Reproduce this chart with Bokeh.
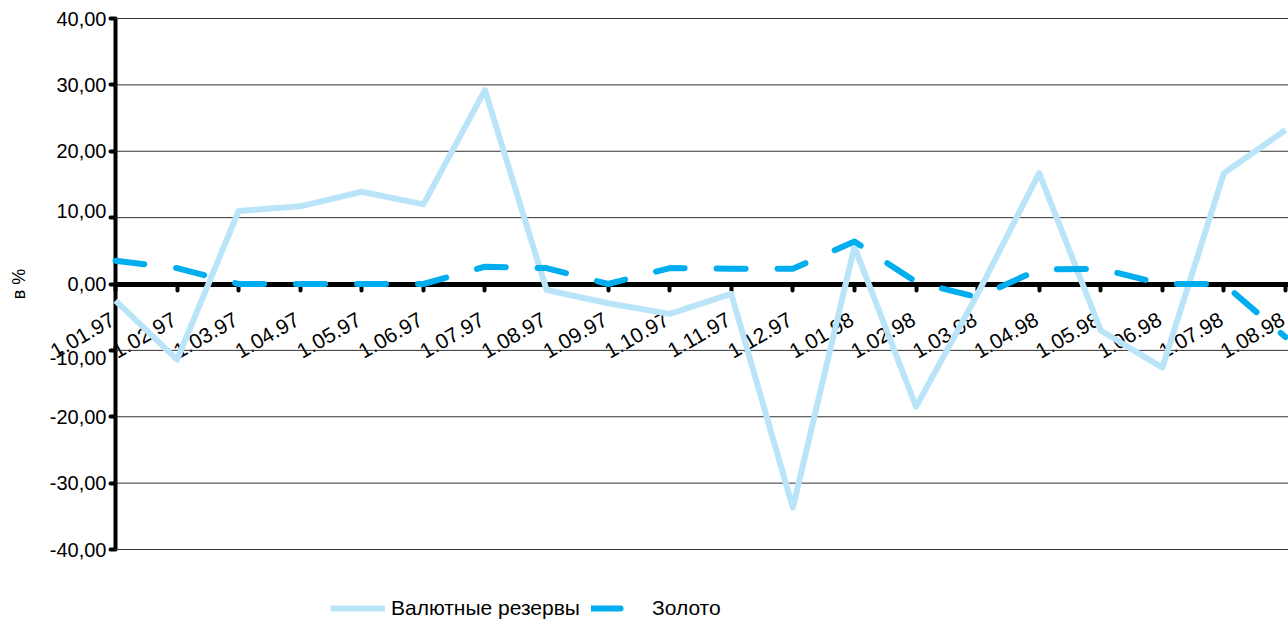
import math
from bokeh.plotting import figure
from bokeh.models import (Range1d, FixedTicker, ColumnDataSource, LinearAxis,
                          Legend, LegendItem, LabelSet, Label)
from bokeh.core.properties import value
from bokeh.embed import file_html
from bokeh.resources import INLINE

# ---- data ----
x_labels = ["1.01.97", "1.02.97", "1.03.97", "1.04.97", "1.05.97", "1.06.97",
            "1.07.97", "1.08.97", "1.09.97", "1.10.97", "1.11.97", "1.12.97",
            "1.01.98", "1.02.98", "1.03.98", "1.04.98", "1.05.98", "1.06.98",
            "1.07.98", "1.08.98"]
reserves = [-2.5, -11.4, 11.0, 11.7, 13.9, 12.0, 29.2, -0.9, -2.9, -4.5,
            -1.5, -33.7, 5.6, -18.5, -1.5, 16.7, -7.0, -12.6, 16.7, 23.2]
gold = [3.5, 2.4, 0.0, 0.0, 0.0, 0.0, 2.6, 2.4, 0.0, 2.4,
        2.3, 2.3, 6.4, 0.3, -2.0, 2.2, 2.3, 0.0, 0.0, -8.0]
y_ticks = [-40, -30, -20, -10, 0, 10, 20, 30, 40]
y_tick_labels = ["-40,00", "-30,00", "-20,00", "-10,00", "0,00",
                 "10,00", "20,00", "30,00", "40,00"]
series_names = ["Валютные резервы", "Золото"]
y_title = "в %"

# style: small vertical nudges (px) of a few y tick labels, as in the original
y_label_nudge = [0, 0, 0, -8, 0, 7, 0, 0, 0]

FONT = "Liberation Sans"
idx = list(range(len(x_labels)))
n = len(x_labels)

# layout geometry (pixels) used to set the ranges so the axes sit inside the canvas
W, H = 1288, 625
x_px0, x_px_last = 115, 1285          # pixel of first / last category
y_px_top, y_px_bot = 18, 549          # pixel of y = 40 / y = -40
xs = (x_px_last - x_px0) / (n - 1)
ys = (y_px_bot - y_px_top) / (y_ticks[-1] - y_ticks[0])
x_start = -x_px0 / xs
x_end = (n - 1) + (W - x_px_last) / xs
y_end = y_ticks[-1] + y_px_top / ys
y_start = y_ticks[0] - (H - y_px_bot) / ys

p = figure(width=W, height=H, output_backend="svg", toolbar_location=None,
           x_range=Range1d(x_start, x_end), y_range=Range1d(y_start, y_end),
           x_axis_location=None, y_axis_location=None,
           min_border=0, min_border_left=0, min_border_right=0,
           min_border_top=0, min_border_bottom=0)
p.outline_line_color = None
p.background_fill_color = "white"
p.border_fill_color = "white"
p.grid.visible = False

# horizontal grid lines (only right of the y axis)
grid_y = [t for t in y_ticks if t != 0]
p.segment(x0=[0] * len(grid_y), y0=grid_y, x1=[x_end] * len(grid_y), y1=grid_y,
          line_color="#333333", line_width=1)

# y axis line + ticks placed at x = 0 (labels drawn as a LabelSet)
ya = LinearAxis(fixed_location=0, bounds=(y_ticks[0], y_ticks[-1]),
                ticker=FixedTicker(ticks=y_ticks))
ya.axis_line_width = 4
ya.axis_line_color = "black"
ya.major_tick_in = 0
ya.major_tick_out = 5
ya.major_tick_line_width = 4
ya.major_tick_line_cap = "round"
ya.minor_tick_line_color = None
ya.major_label_text_color = None
ya.level = "underlay"
p.add_layout(ya, "left")

ysrc = ColumnDataSource(dict(x=[0] * len(y_ticks), y=y_ticks, text=y_tick_labels,
                             dy=y_label_nudge))
y_labels = LabelSet(x="x", y="y", text="text", source=ysrc, x_offset=-9, y_offset="dy",
                    text_align="right", text_baseline="middle",
                    text_font=value(FONT), text_font_size="20px", text_color="black",
                    level="underlay")
p.add_layout(y_labels)

p.add_layout(Label(x=18, x_units="screen", y=0, text=y_title, angle=90, angle_units="deg",
                   text_align="center", text_baseline="middle",
                   text_font=FONT, text_font_size="18px", text_color="black"))

# category axis line + ticks placed at y = 0 (labels drawn as a LabelSet)
xa = LinearAxis(fixed_location=0, bounds=(0, x_end),
                ticker=FixedTicker(ticks=idx))
xa.axis_line_width = 5
xa.axis_line_color = "black"
xa.major_tick_in = 0
xa.major_tick_out = 6
xa.major_tick_line_width = 4
xa.major_tick_line_cap = "round"
xa.minor_tick_line_color = None
xa.major_label_text_color = None
xa.level = "underlay"
p.add_layout(xa, "below")

lsrc = ColumnDataSource(dict(x=idx, y=[0] * n, text=x_labels))
cat_labels = LabelSet(x="x", y="y", text="text", source=lsrc,
                      angle=30, angle_units="deg", x_offset=1, y_offset=-40,
                      text_align="right", text_baseline="bottom",
                      text_font=value(FONT), text_font_size="21px", text_color="black",
                      level="underlay")
p.add_layout(cat_labels)

src = ColumnDataSource(dict(x=idx, r=reserves, g=gold))
r1 = p.line("x", "r", source=src, line_color="#bae5f9", line_width=6, line_join="round")
r2 = p.line("x", "g", source=src, line_color="#00aeef", line_width=6, line_join="round",
            line_cap="round", line_dash="29 32")

legend = Legend(items=[LegendItem(label=series_names[0], renderers=[r1]),
                       LegendItem(label=series_names[1], renderers=[r2])],
                orientation="horizontal", location=(330, 5),
                glyph_width=55, glyph_height=20, label_standoff=6, spacing=2,
                label_width=198,
                padding=0, margin=0, border_line_color=None, background_fill_alpha=0,
                label_text_font=FONT, label_text_font_size="21px", label_text_color="black")
p.add_layout(legend, "center")

open("out.html", "w").write(file_html(p, INLINE))
